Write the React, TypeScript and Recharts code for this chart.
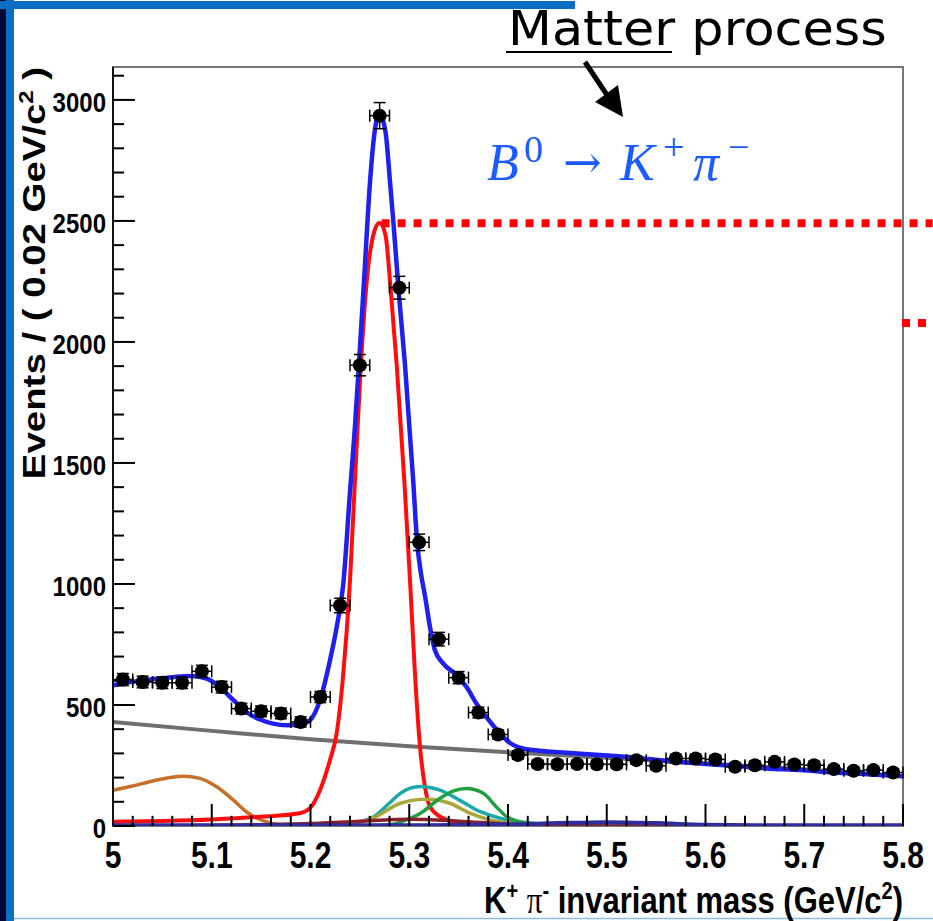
import { ComposedChart, Line, Scatter, ErrorBar, XAxis, YAxis, ReferenceLine, ReferenceArea } from "recharts";

// data points: bin centres (GeV/c^2), events per 0.02 GeV/c^2, vertical errors
const massBins = [5.01, 5.03, 5.05, 5.07, 5.09, 5.11, 5.13, 5.15, 5.17, 5.19, 5.21, 5.23, 5.25, 5.27, 5.29, 5.31, 5.33, 5.35, 5.37, 5.39,
    5.41, 5.43, 5.45, 5.47, 5.49, 5.51, 5.53, 5.55, 5.57, 5.59, 5.61, 5.63, 5.65, 5.67, 5.69, 5.71, 5.73, 5.75, 5.77, 5.79];
const events = [605, 595, 592, 592, 639, 574, 485, 474, 465, 430, 533, 911, 1904, 2935, 2224, 1172, 772, 613, 469, 378,
    293, 256, 255, 256, 255, 255, 272, 249, 279, 279, 275, 245, 251, 265, 254, 251, 235, 228, 231, 221];
const eventErrors = [25, 24, 24, 24, 25, 24, 22, 22, 22, 21, 23, 30, 44, 54, 47, 34, 28, 25, 22, 19,
    17, 16, 16, 16, 16, 16, 16, 16, 17, 17, 17, 16, 16, 16, 16, 16, 15, 15, 15, 15];
const binHalfWidth = 0.01;

// fit components as (mass, events)
const totalFit: [number, number][] = [[5.0, 581], [5.02, 596], [5.04, 606], [5.06, 615], [5.08, 620], [5.095, 609], [5.108, 574], [5.122, 520],
    [5.135, 471], [5.149, 440], [5.162, 423], [5.176, 416], [5.189, 419], [5.1995, 437], [5.2096, 520], [5.2197, 684], [5.2265, 822],
    [5.2332, 1000], [5.24, 1380], [5.245, 1650], [5.249, 1905], [5.2542, 2252], [5.2603, 2663], [5.265, 2870], [5.2697, 2942],
    [5.2759, 2870], [5.2805, 2663], [5.284, 2492], [5.289, 2224], [5.2957, 1905], [5.304, 1427], [5.308, 1172], [5.312, 1040],
    [5.316, 950], [5.321, 822], [5.326, 726], [5.3345, 671], [5.348, 623], [5.358, 574], [5.368, 506], [5.378, 451], [5.392, 382],
    [5.402, 343], [5.412, 324], [5.432, 311], [5.459, 303], [5.493, 293], [5.527, 283], [5.561, 269], [5.594, 258], [5.628, 249],
    [5.662, 238], [5.696, 231], [5.729, 221], [5.763, 214], [5.8, 206]];
const signal: [number, number][] = [[5.0, 18], [5.05, 21], [5.1, 27], [5.149, 38], [5.189, 53], [5.1995, 74], [5.2096, 148], [5.2197, 272],
    [5.2265, 383], [5.233, 620], [5.24, 1014], [5.245, 1427], [5.251, 1905], [5.257, 2252], [5.2635, 2440], [5.2697, 2492], [5.276, 2440],
    [5.2805, 2252], [5.2873, 1905], [5.295, 1427], [5.3008, 1014], [5.3055, 650], [5.3109, 327], [5.316, 160], [5.321, 80], [5.3345, 32],
    [5.345, 18], [5.36, 8], [5.4, 2], [5.8, 0]];
const combinatorial: [number, number][] = [[5.0, 430], [5.1, 393], [5.2, 358], [5.3, 330], [5.4, 305], [5.5, 282], [5.6, 258], [5.7, 234], [5.8, 206]];
const partialReco: [number, number][] = [[5.0, 148], [5.02, 165], [5.037, 183], [5.055, 198], [5.071, 206], [5.088, 197], [5.105, 162],
    [5.122, 107], [5.135, 59], [5.146, 32], [5.16, 12], [5.175, 3], [5.19, 0]];
const peakingA: [number, number][] = [[5.2, 0], [5.24, 10], [5.264, 38], [5.28, 95], [5.291, 135], [5.311, 163], [5.331, 148], [5.351, 107],
    [5.372, 59], [5.392, 32], [5.412, 18], [5.45, 5], [5.5, 1], [5.8, 0]];
const peakingB: [number, number][] = [[5.2, 0], [5.24, 8], [5.264, 35], [5.291, 94], [5.311, 110], [5.321, 111], [5.341, 94], [5.362, 52],
    [5.382, 25], [5.42, 6], [5.47, 0]];
const peakingC: [number, number][] = [[5.25, 0], [5.28, 5], [5.301, 32], [5.311, 52], [5.331, 114], [5.345, 145], [5.358, 155], [5.375, 135],
    [5.388, 80], [5.399, 38], [5.42, 10], [5.45, 2], [5.5, 0]];
const smallA: [number, number][] = [[5.0, 0], [5.1, 2], [5.15, 5], [5.2, 10], [5.25, 20], [5.3, 28], [5.35, 20], [5.4, 8], [5.45, 2], [5.5, 0], [5.8, 0]];
const smallB: [number, number][] = [[5.0, 3], [5.3, 3], [5.4, 6], [5.45, 12], [5.5, 16], [5.55, 12], [5.6, 5], [5.65, 3], [5.8, 3]];

const xMinorTicks = [5.02, 5.04, 5.06, 5.08, 5.12, 5.14, 5.16, 5.18, 5.22, 5.24, 5.26, 5.28, 5.32, 5.34, 5.36, 5.38,
    5.42, 5.44, 5.46, 5.48, 5.52, 5.54, 5.56, 5.58, 5.62, 5.64, 5.66, 5.68, 5.72, 5.74, 5.76, 5.78];
const xMajor = [5, 5.1, 5.2, 5.3, 5.4, 5.5, 5.6, 5.7, 5.8];
const xLabels = ["5", "5.1", "5.2", "5.3", "5.4", "5.5", "5.6", "5.7", "5.8"];
const yMinorTicks = [100, 200, 300, 400, 600, 700, 800, 900, 1100, 1200, 1300, 1400, 1600, 1700, 1800, 1900,
    2100, 2200, 2300, 2400, 2600, 2700, 2800, 2900, 3100];
const yMajor = [0, 500, 1000, 1500, 2000, 2500, 3000];
const yLabels = ["0", "500", "1000", "1500", "2000", "2500", "3000"];

const xMin = 5, xMax = 5.8, yMin = 0, yMax = 3136;
// ROOT style inner tick lengths, in axis units (about 22px major / 10px minor)
const xTickLen = {major: 91, minor: 42};
const yTickLen = {major: 0.0223, minor: 0.0112};

const toXY = (pts: [number, number][]) => pts.map(([x, y]) => ({x, y}));
const points = massBins.map((m, i) => ({x: m, y: events[i], ex: binHalfWidth, ey: eventErrors[i]}));

const labelFont = "'Liberation Sans', Arial, Helvetica, sans-serif";

const XLabel = (props: any) => {
    const {x, y, payload} = props;
    const idx = xMajor.findIndex(t => Math.abs(t - payload.value) < 1e-6);
    return <text transform={`translate(${x},${y + 42}) scale(1,1.25)`} textAnchor="middle"
                 fontFamily={labelFont} fontWeight="bold" fontSize={30} fill="#000">{xLabels[idx]}</text>
};

const YLabel = (props: any) => {
    const {x, y, payload} = props;
    const idx = yMajor.indexOf(payload.value);
    return <text transform={`translate(${x - 7},${y + 12}) scale(1,1.16)`} textAnchor="end"
                 fontFamily={labelFont} fontWeight="bold" fontSize={24} fill="#000">{yLabels[idx]}</text>
};

const Dot = (p: any) => <circle cx={p.cx} cy={p.cy} r={7} fill="#000"/>;

const curve = (pts: [number, number][], color: string, width: number) =>
    <Line data={toXY(pts)} dataKey="y" type="monotone" stroke={color} strokeWidth={width} dot={false}
          activeDot={false} isAnimationActive={false}/>;

const xTickMark = (t: number, len: number) =>
    <ReferenceLine key={`xt${t}`} segment={[{x: t, y: yMin}, {x: t, y: yMin + len}]} stroke="#000" strokeWidth={2} ifOverflow="visible"/>;
const yTickMark = (t: number, len: number) =>
    <ReferenceLine key={`yt${t}`} segment={[{x: xMin, y: t}, {x: xMin + len, y: t}]} stroke="#000" strokeWidth={2} ifOverflow="visible"/>;

export default function App() {
    return <div style={{position: "absolute", left: 0, top: 0, width: 933, height: 921, background: "#fff", overflow: "hidden"}}>
        <ComposedChart width={933} height={921} margin={{top: 67, right: 30, bottom: 94, left: 112}}>
            <XAxis type="number" dataKey="x" domain={[xMin, xMax]} allowDataOverflow ticks={xMajor} interval={0}
                   height={1} tickSize={0} tickMargin={0} tickLine={false} axisLine={false} tick={(p: any) => <XLabel {...p}/>}/>
            <YAxis type="number" domain={[yMin, yMax]} allowDataOverflow ticks={yMajor} interval={0}
                   width={1} tickSize={0} tickMargin={0} tickLine={false} axisLine={false} tick={(p: any) => <YLabel {...p}/>}/>
            <ReferenceArea x1={xMin} x2={xMax} y1={yMin} y2={yMax} fill="none" stroke="#777" strokeWidth={2} ifOverflow="visible"/>
            {curve(combinatorial, "#6f6f6f", 4)}
            {curve(partialReco, "#c8702a", 3.5)}
            {curve(signal, "#ff0d0d", 4)}
            {curve(peakingA, "#1aa8a8", 3.5)}
            {curve(peakingB, "#aaa63a", 3.5)}
            {curve(peakingC, "#1f9f3f", 3.5)}
            {curve(smallA, "#8a1f2d", 3.5)}
            {curve(smallB, "#2d2d9f", 4)}
            {curve(totalFit, "#1f1ff0", 4.5)}
            {xMajor.map(t => xTickMark(t, xTickLen.major))}
            {xMinorTicks.map(t => xTickMark(t, xTickLen.minor))}
            {yMajor.map(t => yTickMark(t, yTickLen.major))}
            {yMinorTicks.map(t => yTickMark(t, yTickLen.minor))}
            <ReferenceLine x={xMin} stroke="#111" strokeWidth={2} ifOverflow="visible"/>
            <Scatter data={points} dataKey="y" shape={Dot} isAnimationActive={false}>
                <ErrorBar dataKey="ey" direction="y" width={6} stroke="#000" strokeWidth={1.5}/>
                <ErrorBar dataKey="ex" direction="x" width={6} stroke="#000" strokeWidth={1.5}/>
            </Scatter>
            <ReferenceLine segment={[{x: 5.272, y: 2490}, {x: 5.83, y: 2490}]} stroke="#ff0000" strokeWidth={8}
                           strokeDasharray="8 8" ifOverflow="visible"/>
            <ReferenceLine segment={[{x: 5.799, y: 2078}, {x: 5.83, y: 2078}]} stroke="#ff0000" strokeWidth={8}
                           strokeDasharray="8 8" ifOverflow="visible"/>
        </ComposedChart>
        <svg width={933} height={921} style={{position: "absolute", left: 0, top: 0, pointerEvents: "none"}}>
            <rect x={0} y={0} width={6} height={921} fill="#00093a"/>
            <rect x={6} y={0} width={8} height={921} fill="#0a6fc2"/>
            <rect x={0} y={1} width={575} height={8} fill="#0a6fc2"/>
            <line x1={14} x2={933} y1={918.5} y2={918.5} stroke="#8cbde6" strokeWidth={1.5}/>

            <text transform="translate(508,45) scale(1.06,1)" fontFamily="'DejaVu Sans', Verdana, sans-serif" fontSize={48} fill="#000">Matter process</text>
            <line x1={506} x2={672} y1={52} y2={52} stroke="#000" strokeWidth={2}/>
            <line x1={585} y1={62} x2={609} y2={98} stroke="#000" strokeWidth={5}/>
            <polygon points="623,117 595,102 618,85" fill="#000"/>

            <text fill="#1a5cff" fontFamily="'Liberation Serif', 'DejaVu Serif', serif" fontSize={52}>
                <tspan x={487} y={180} fontStyle="italic">B</tspan>
                <tspan x={524} y={162} fontSize={38}>0</tspan>
                <tspan x={563} y={178} fontSize={46} fontFamily="'DejaVu Serif', serif">→</tspan>
                <tspan x={620} y={180} fontStyle="italic">K</tspan>
                <tspan x={663} y={160} fontSize={38}>+</tspan>
                <tspan x={693} y={180} fontStyle="italic">π</tspan>
                <tspan x={728} y={160} fontSize={38}>−</tspan>
            </text>

            <text transform="translate(903,913) scale(1,1.2)" textAnchor="end" fontFamily={labelFont} fontWeight="bold" fontSize={31} fill="#000">
                K<tspan dy={-12} fontSize={20}>+</tspan><tspan dy={12}> </tspan><tspan fontFamily="'Liberation Serif', serif" fontWeight="normal">π</tspan><tspan dy={-12} fontSize={20}>-</tspan><tspan dy={12}> invariant mass (GeV/c</tspan><tspan dy={-12} fontSize={20}>2</tspan><tspan dy={12}>)</tspan>
            </text>
            <text transform="translate(45,273) rotate(-90) scale(1.2,1)" textAnchor="middle" fontFamily={labelFont} fontWeight="bold" fontSize={32} fill="#000">
                Events / ( 0.02 GeV/c<tspan dy={-12} fontSize={20}>2</tspan><tspan dy={12}> )</tspan>
            </text>
        </svg>
    </div>
}
